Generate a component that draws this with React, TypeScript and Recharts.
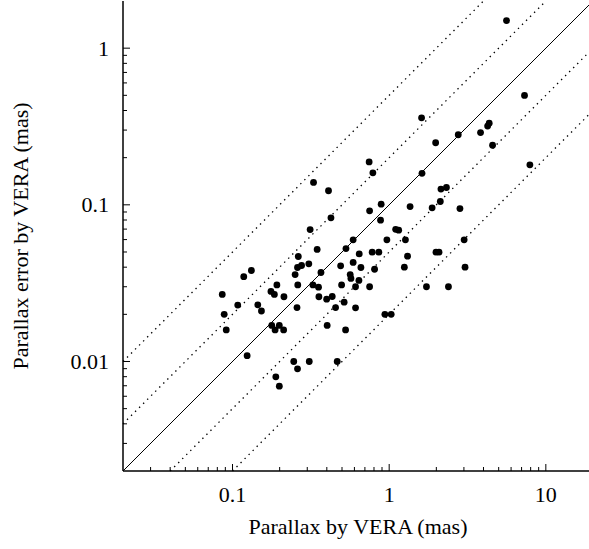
import React from 'react';
import { ScatterChart, Scatter, XAxis, YAxis, ReferenceLine } from 'recharts';

// Parallax by VERA (mas)
const PARALLAX = [
  5.61, 7.31, 4.25, 4.35, 3.83, 2.76, 4.57, 7.91, 2.32, 2.14,
  0.329, 0.41, 0.425, 0.313, 0.347, 0.53, 0.263, 0.132, 0.118, 0.276,
  0.26, 0.307, 0.49, 0.251, 0.367, 0.564, 0.57, 0.192, 0.261, 0.326,
  0.354, 0.497, 0.086, 0.176, 0.185, 0.213, 0.356, 0.433, 0.399, 0.108,
  0.145, 0.455, 0.516, 0.258, 0.153, 1.98, 0.745, 0.787, 1.62, 0.889,
  1.36, 0.75, 2.12, 1.88, 2.83, 0.881, 1.1, 1.15, 0.589, 0.967,
  1.27, 3.01, 0.644, 0.779, 0.859, 1.31, 1.99, 2.08, 0.589, 0.66,
  0.807, 1.25, 3.05, 0.641, 0.61, 0.75, 1.73, 2.39, 0.61, 0.402,
  0.527, 0.939, 1.03, 0.466, 0.0885, 0.0912, 0.178, 0.199, 0.187, 0.212,
  0.124, 0.246, 0.309, 0.26, 0.189, 0.199, 1.61,
];

// Parallax error by VERA (mas)
const ERROR = [
  1.5, 0.499, 0.318, 0.332, 0.289, 0.28, 0.24, 0.18, 0.129, 0.126,
  0.139, 0.123, 0.0826, 0.0695, 0.0519, 0.0526, 0.0468, 0.0381, 0.0348, 0.041,
  0.0398, 0.042, 0.0408, 0.0359, 0.037, 0.0359, 0.0339, 0.0308, 0.0308, 0.0308,
  0.0298, 0.0308, 0.0268, 0.028, 0.0268, 0.0259, 0.0259, 0.026, 0.025, 0.0229,
  0.023, 0.0221, 0.0239, 0.0221, 0.021, 0.249, 0.188, 0.16, 0.159, 0.101,
  0.0975, 0.0916, 0.105, 0.0957, 0.0946, 0.0798, 0.0698, 0.0689, 0.0598, 0.0598,
  0.0598, 0.0598, 0.0486, 0.0499, 0.0499, 0.047, 0.0499, 0.0499, 0.0429, 0.0398,
  0.0388, 0.04, 0.04, 0.0329, 0.03, 0.03, 0.03, 0.03, 0.022, 0.017,
  0.0159, 0.02, 0.02, 0.01, 0.02, 0.0159, 0.017, 0.017, 0.0159, 0.0159,
  0.0109, 0.01, 0.01, 0.00898, 0.00798, 0.00696, 0.359,
];

const X_DOMAIN = [0.02, 20];
const Y_DOMAIN = [0.002, 2];

const X_TICKS = [
  0.03, 0.04, 0.05, 0.06, 0.07, 0.08, 0.09,
  0.1, 0.2, 0.3, 0.4, 0.5, 0.6, 0.7, 0.8, 0.9,
  1, 2, 3, 4, 5, 6, 7, 8, 9,
  10,
];
const Y_TICKS = [
  0.003, 0.004, 0.005, 0.006, 0.007, 0.008, 0.009,
  0.01, 0.02, 0.03, 0.04, 0.05, 0.06, 0.07, 0.08, 0.09,
  0.1, 0.2, 0.3, 0.4, 0.5, 0.6, 0.7, 0.8, 0.9,
  1,
];
const X_LABELS = [0.1, 1, 10];
const Y_LABELS = [0.01, 0.1, 1];

// lines: error = parallax / ratio
const RATIOS = [2, 5, 10, 20, 50];
const SOLID_RATIO = 10;

const FONT = '"Liberation Serif", "DejaVu Serif", serif';
const TEXT_STYLE = { fontFamily: FONT, fontSize: 22, fill: '#000' };
const MAJOR = 7;
const MINOR = 4;

const points = PARALLAX.map((x, i) => ({ x, y: ERROR[i] }));

function BottomTick(props: any) {
  const { x, y, payload } = props;
  const major = X_LABELS.includes(payload.value);
  return (
    <g>
      <line x1={x} x2={x} y1={y} y2={y - (major ? MAJOR : MINOR)} stroke="#000" strokeWidth={1} />
      {major && (
        <text x={x} y={y + 31} textAnchor="middle" style={TEXT_STYLE}>
          {String(payload.value)}
        </text>
      )}
    </g>
  );
}

function TopTick(props: any) {
  const { x, y, payload } = props;
  const major = X_LABELS.includes(payload.value);
  return <line x1={x} x2={x} y1={y} y2={y + (major ? MAJOR : MINOR)} stroke="#000" strokeWidth={1} />;
}

function LeftTick(props: any) {
  const { x, y, payload } = props;
  const major = Y_LABELS.includes(payload.value);
  return (
    <g>
      <line x1={x} x2={x + (major ? MAJOR : MINOR)} y1={y} y2={y} stroke="#000" strokeWidth={1} />
      {major && (
        <text x={x - 14} y={y + 7.5} textAnchor="end" style={TEXT_STYLE}>
          {String(payload.value)}
        </text>
      )}
    </g>
  );
}

function RightTick(props: any) {
  const { x, y, payload } = props;
  const major = Y_LABELS.includes(payload.value);
  return <line x1={x} x2={x - (major ? MAJOR : MINOR)} y1={y} y2={y} stroke="#000" strokeWidth={1} />;
}

function XTitle(props: any) {
  const vb = props.viewBox || { x: 123, y: 471, width: 470, height: 78 };
  return (
    <text x={vb.x + vb.width / 2} y={vb.y + 63} textAnchor="middle" style={TEXT_STYLE}>
      Parallax by VERA (mas)
    </text>
  );
}

function YTitle(props: any) {
  const vb = props.viewBox || { x: 0, y: 1, width: 123, height: 470 };
  const cx = 28;
  const cy = vb.y + vb.height / 2;
  return (
    <text x={cx} y={cy} transform={`rotate(-90 ${cx} ${cy})`} textAnchor="middle" style={TEXT_STYLE}>
      Parallax error by VERA (mas)
    </text>
  );
}

const dot = (p: any) => <circle cx={p.cx} cy={p.cy} r={3.4} fill="#000" />;

export default function App() {
  const axisLine = { stroke: '#000', strokeWidth: 1.5 };
  return (
    <div
      style={{
        position: 'absolute',
        left: 0,
        top: 0,
        width: 589,
        height: 549,
        overflow: 'hidden',
        background: '#fff',
        fontFamily: FONT,
      }}
    >
      <ScatterChart width={600} height={549} margin={{ top: 1, right: 7, bottom: 0, left: 0 }}>
        <XAxis
          xAxisId="b"
          dataKey="x"
          type="number"
          scale="log"
          domain={X_DOMAIN}
          allowDataOverflow
          ticks={X_TICKS}
          interval={0}
          tickSize={0}
          tickMargin={0}
          tickLine={false}
          axisLine={axisLine}
          tick={BottomTick}
          height={78}
          label={{ content: XTitle }}
        />
        <XAxis
          xAxisId="t"
          orientation="top"
          type="number"
          scale="log"
          domain={X_DOMAIN}
          allowDataOverflow
          ticks={X_TICKS}
          interval={0}
          tickSize={0}
          tickMargin={0}
          tickLine={false}
          axisLine={axisLine}
          tick={TopTick}
          height={0}
        />
        <YAxis
          yAxisId="l"
          dataKey="y"
          type="number"
          scale="log"
          domain={Y_DOMAIN}
          allowDataOverflow
          ticks={Y_TICKS}
          interval={0}
          tickSize={0}
          tickMargin={0}
          tickLine={false}
          axisLine={axisLine}
          tick={LeftTick}
          width={123}
          label={{ content: YTitle }}
        />
        <YAxis
          yAxisId="r"
          orientation="right"
          type="number"
          scale="log"
          domain={Y_DOMAIN}
          allowDataOverflow
          ticks={Y_TICKS}
          interval={0}
          tickSize={0}
          tickMargin={0}
          tickLine={false}
          axisLine={axisLine}
          tick={RightTick}
          width={0}
        />
        {RATIOS.map((k) => {
          const x0 = Math.max(X_DOMAIN[0], Y_DOMAIN[0] * k);
          const x1 = Math.min(X_DOMAIN[1], Y_DOMAIN[1] * k);
          return (
            <ReferenceLine
              key={k}
              xAxisId="b"
              yAxisId="l"
              segment={[
                { x: x0, y: x0 / k },
                { x: x1, y: x1 / k },
              ]}
              stroke="#000"
              strokeWidth={k === SOLID_RATIO ? 1 : 1.3}
              strokeDasharray={k === SOLID_RATIO ? undefined : '1.4 4.3'}
              ifOverflow="visible"
            />
          );
        })}
        <Scatter
          xAxisId="b"
          yAxisId="l"
          data={points}
          dataKey="y"
          fill="#000"
          shape={dot}
          isAnimationActive={false}
        />
      </ScatterChart>
    </div>
  );
}
